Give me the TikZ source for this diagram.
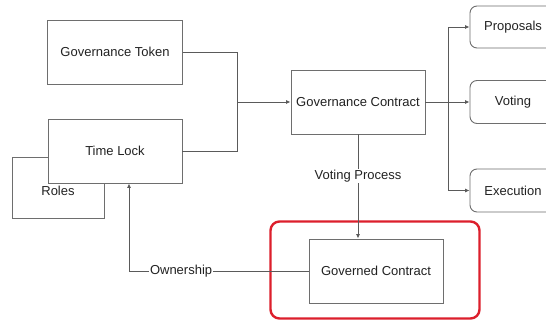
\documentclass[tikz,border=0pt]{standalone}
\usepackage{fontspec}
\setmainfont{Liberation Sans}
\usetikzlibrary{arrows.meta,calc}
\definecolor{ln}{HTML}{5A5A5A}
\definecolor{bd}{HTML}{6E6E6E}
\definecolor{tx}{HTML}{222222}
\definecolor{redb}{HTML}{DC1F2C}
\tikzset{
  box/.style={draw=bd,line width=0.9pt,fill=white,text=tx,font=\fontsize{13}{15}\selectfont,inner sep=0pt},
  rbox/.style={box,rounded corners=7pt},
  conn/.style={draw=ln,line width=0.9pt},
  arr/.style={conn,-{Latex[length=4.5pt,width=4pt]}},
  lbl/.style={fill=white,text=tx,font=\fontsize{13}{15}\selectfont,inner sep=1pt}
}
\begin{document}
\begin{tikzpicture}[x=1pt,y=-1pt]
\useasboundingbox[fill=white] (0,0) rectangle (546,320);
% nodes
\node[box,minimum width=92pt,minimum height=61pt] (roles) at (58,187.5) {};
\node[text=tx,font=\fontsize{13}{15}\selectfont] (rolestxt) at (58,191) {Roles};
\node[box,minimum width=135pt,minimum height=64pt] (gt) at (115,52) {Governance Token};
\node[box,minimum width=134pt,minimum height=64pt] (tl) at (115,151) {Time Lock};
\node[box,minimum width=134pt,minimum height=64pt] (gc) at (358,102) {Governance Contract};
\node[rbox,minimum width=86pt,minimum height=42pt] (prop) at (513,27) {Proposals};
\node[rbox,minimum width=86pt,minimum height=43pt] (vot) at (513,102) {Voting};
\node[rbox,minimum width=86pt,minimum height=43pt] (exe) at (513,190.5) {Execution};
\node[draw=redb,line width=2.4pt,rounded corners=9pt,minimum width=209pt,minimum height=97pt,inner sep=0pt] (hl) at (375,270) {};
\node[box,minimum width=134pt,minimum height=64pt] (gvd) at (376,271) {Governed Contract};
% connectors
\coordinate (j) at (237,102);
\draw[arr] (gt.east) -| (j) -- (gc.west);
\draw[conn] (tl.east) -| (j);
\draw[arr] (gc.east) -- (vot.west);
\coordinate (b) at (448,102);
\draw[arr] (b) |- (prop.west);
\draw[arr] (b) |- (exe.west);
\draw[arr] (gc.south) -- (gc.south |- gvd.north) node[lbl,pos=0.4] {Voting Process};
\coordinate (o) at (129,271);
\draw[arr] (gvd.west) -- (o) node[lbl,pos=0.71] {Ownership} -- (o |- tl.south);
\end{tikzpicture}
\end{document}
